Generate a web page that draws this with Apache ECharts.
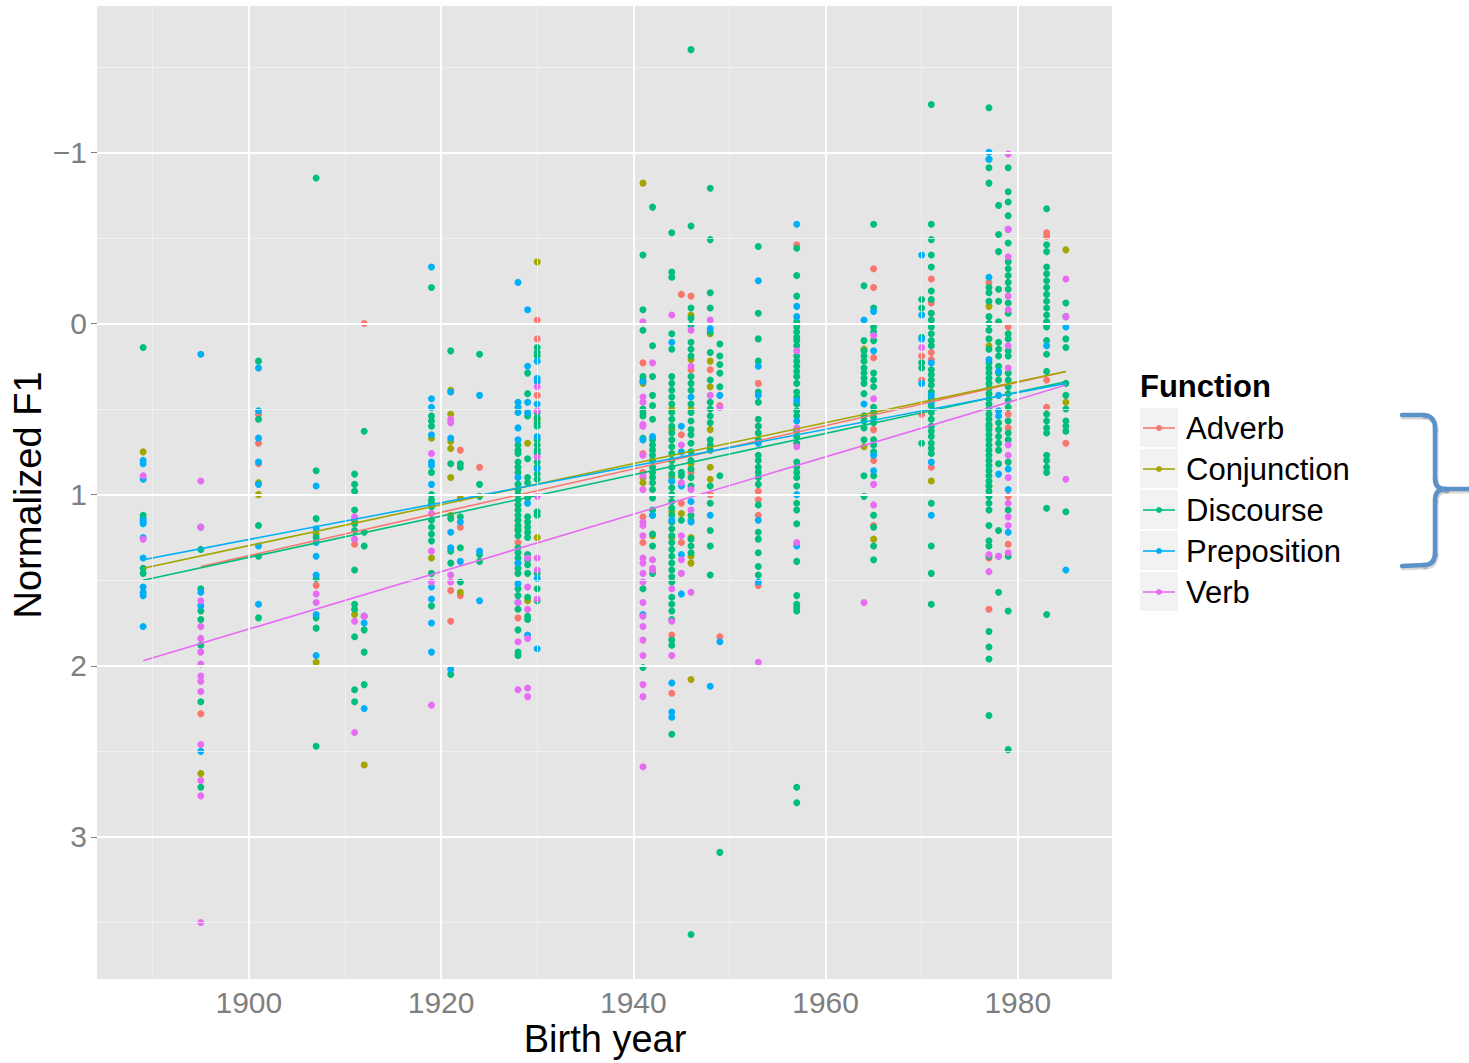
<!DOCTYPE html>
<html>
<head>
<meta charset="utf-8">
<script src="https://cdn.jsdelivr.net/npm/echarts@6/dist/echarts.min.js"></script>
<style>
html,body{margin:0;padding:0;background:#fff;}
#chart{width:1469px;height:1063px;}
</style>
</head>
<body>
<div id="chart"></div>
<script>
// ---- data: [birth year, [normalized F1 values]] ----
const adverb = [
 [1895,[2.28]],[1901,[0.53,0.70,0.82]],[1907,[1.53]],[1911,[1.29]],[1912,[0.00]],
 [1921,[1.56,1.74]],[1922,[0.74,1.19,1.59]],[1924,[0.84]],[1928,[1.28,1.72]],
 [1930,[-0.02,0.09,0.42]],[1941,[0.23,0.76,0.87,1.13,1.28]],[1944,[1.82,2.16]],
 [1945,[-0.17,0.65,1.05,1.28]],[1946,[-0.16,0.27,0.87]],[1948,[0.27,1.00]],[1949,[0.48,1.83]],
 [1953,[0.35,0.60,0.98,1.03,1.12,1.53]],[1957,[-0.46]],[1965,[-0.32,-0.21,0.20,0.62,0.80,1.18]],
 [1970,[0.19,0.33,0.53]],[1971,[-0.26,-0.12,-0.06,0.17,0.21,0.84]],[1977,[-0.24,1.37,1.67]],
 [1979,[0.02,0.53,0.61,1.01,1.29]],[1983,[-0.53,-0.51,0.01,0.33,0.49]],[1985,[0.70]]
];
const conjunction = [
 [1889,[0.75]],[1895,[2.63]],[1901,[0.93,1.00]],[1907,[1.23,1.98]],[1911,[1.15,1.70]],[1912,[2.58]],
 [1919,[0.67,1.37]],[1921,[0.39,0.53,0.69,0.73,0.90,1.12]],[1922,[1.02,1.57]],[1928,[1.20]],
 [1929,[0.70,1.62]],[1930,[-0.36,0.56,1.25]],[1941,[-0.82,0.35,0.90,0.93]],[1942,[1.24]],
 [1944,[0.50,0.62,0.80,0.90,1.10,1.25]],[1945,[1.11]],[1946,[-0.05,0.21,0.50,0.82,1.25,1.36,1.40,2.08]],
 [1948,[0.06,0.22,0.37,0.62,0.84,0.91]],[1964,[0.15,0.72]],[1965,[1.26]],[1971,[0.92]],
 [1977,[-0.10,0.13,0.60,0.95]],[1985,[-0.43,0.46]]
];
const discourse = [
 [1889,[0.14,1.12,1.14,1.43,1.46]],
 [1895,[1.19,1.32,1.55,1.68,1.73,1.88,2.21,2.71]],
 [1901,[0.22,0.56,1.18,1.36,1.72]],
 [1907,[-0.85,0.86,1.14,1.25,1.49,1.72,1.78,2.47]],
 [1911,[0.88,0.94,0.98,1.09,1.17,1.21,1.44,1.64,1.67,1.83,2.14,2.21]],
 [1912,[0.63,1.22,1.30,1.71,1.79,1.92,2.11]],
 [1919,[-0.21,0.54,0.57,0.60,0.87,1.00,1.03,1.05,1.07,1.15,1.19,1.23,1.27,1.46,1.65]],
 [1921,[0.16,0.82,1.14,1.33,1.40,2.05]],
 [1922,[0.82,0.84,1.13,1.31,1.51]],
 [1924,[0.18,0.94,1.01,1.35,1.39]],
 [1928,[0.71,0.74,0.76,0.81,0.84,0.87,0.94,0.97,1.00,1.03,1.06,1.09,1.12,1.15,1.18,1.21,1.24,1.31,1.34,1.37,1.40,1.43,1.46,1.55,1.59,1.67,1.79,1.92,1.94]],
 [1929,[0.29,0.41,0.54,0.79,0.90,0.93,1.02,1.13,1.16,1.19,1.22,1.25,1.35,1.38,1.41,1.46,1.60,1.71,1.73]],
 [1930,[0.14,0.17,0.19,0.52,0.55,0.58,0.60,0.68,0.71,0.74,0.76,0.81,0.84,0.88,0.91,1.10,1.12,1.46,1.55,1.62]],
 [1941,[-0.40,-0.08,0.04,0.31,0.33,0.50,0.52,0.54,0.67,1.55,2.01]],
 [1942,[-0.68,0.13,0.31,0.42,0.48,0.56,0.68,0.71,0.74,0.77,0.80,0.84,0.87,0.90,0.93,0.97,1.02,1.09,1.12,1.23,1.30,1.46]],
 [1944,[-0.53,-0.30,-0.27,0.06,0.15,0.31,0.35,0.39,0.43,0.47,0.52,0.56,0.60,0.64,0.68,0.72,0.76,0.80,0.84,0.88,0.92,0.96,1.00,1.04,1.08,1.12,1.16,1.20,1.24,1.28,1.32,1.36,1.40,1.44,1.48,1.51,1.60,1.64,1.68,1.73,1.85,1.88,2.40]],
 [1945,[0.87,0.89,1.15]],
 [1946,[-1.60,-0.57,-0.09,-0.03,0.01,0.11,0.15,0.19,0.31,0.35,0.39,0.47,0.52,0.57,0.62,0.65,0.70,0.75,0.80,0.85,0.90,0.95,1.12,1.15,1.26,1.30,1.34,3.57]],
 [1948,[-0.79,-0.49,-0.18,-0.09,0.05,0.17,0.33,0.46,0.50,0.54,0.58,0.68,0.71,0.74,0.95,1.05,1.21,1.30,1.47]],
 [1949,[0.12,0.19,0.24,0.29,0.37,0.89,3.09]],
 [1953,[-0.45,-0.06,0.09,0.22,0.40,0.46,0.56,0.60,0.64,0.68,0.77,0.80,0.84,0.87,0.90,0.94,1.06,1.22,1.26,1.34,1.42,1.47]],
 [1957,[-0.44,-0.28,-0.16,-0.01,0.02,0.05,0.08,0.10,0.13,0.19,0.22,0.25,0.28,0.31,0.35,0.40,0.43,0.47,0.51,0.54,0.63,0.66,0.70,0.81,0.84,0.87,0.90,0.95,1.05,1.09,1.17,1.39,1.59,1.64,1.66,1.68,2.71,2.80]],
 [1964,[-0.22,0.10,0.16,0.19,0.22,0.26,0.29,0.32,0.35,0.41,0.54,0.57,0.61,0.68,0.89,1.01]],
 [1965,[-0.58,-0.09,0.02,0.05,0.10,0.29,0.33,0.37,0.49,0.52,0.55,0.58,0.68,0.71,0.75,0.89,1.12,1.19,1.30,1.38]],
 [1970,[-0.14,-0.09,0.08,0.23,0.26,0.70]],
 [1971,[-1.28,-0.58,-0.49,-0.40,-0.33,-0.19,-0.14,-0.06,-0.02,0.02,0.06,0.10,0.13,0.27,0.30,0.33,0.36,0.40,0.44,0.48,0.52,0.56,0.60,0.63,0.66,0.70,0.73,0.76,1.05,1.30,1.46,1.64]],
 [1977,[-1.26,-0.96,-0.91,-0.82,-0.21,-0.18,-0.13,-0.04,0.00,0.04,0.09,0.15,0.23,0.26,0.29,0.32,0.35,0.38,0.41,0.44,0.47,0.50,0.53,0.56,0.59,0.62,0.65,0.68,0.71,0.74,0.77,0.80,0.83,0.86,0.89,0.92,0.95,0.98,1.01,1.05,1.09,1.18,1.27,1.30,1.36,1.80,1.89,1.96,2.29]],
 [1978,[-0.69,-0.52,-0.42,-0.20,-0.13,-0.01,0.11,0.15,0.19,0.25,0.29,0.33,0.58,0.62,0.66,0.70,0.74,0.82,1.21,1.57]],
 [1979,[-0.91,-0.77,-0.71,-0.63,-0.47,-0.36,-0.32,-0.28,-0.24,-0.20,-0.12,-0.06,0.06,0.09,0.16,0.19,0.29,0.33,0.37,0.41,0.45,0.49,0.57,0.64,0.68,0.81,1.09,1.36,1.68,2.49]],
 [1983,[-0.67,-0.46,-0.42,-0.33,-0.29,-0.25,-0.21,-0.17,-0.13,-0.09,-0.05,-0.01,0.02,0.10,0.18,0.28,0.53,0.57,0.61,0.64,0.77,0.80,0.84,0.87,1.08,1.70]],
 [1985,[-0.12,-0.04,0.09,0.14,0.35,0.42,0.50,0.57,0.60,0.63,1.10]]
];
const preposition = [
 [1889,[0.80,0.82,0.91,1.15,1.16,1.17,1.25,1.37,1.54,1.57,1.59,1.77]],
 [1895,[0.18,1.57,1.65,2.50]],[1901,[0.26,0.51,0.67,0.81,0.94,1.30,1.64]],
 [1907,[0.95,1.20,1.28,1.36,1.47,1.70,1.94]],[1912,[1.75,2.25]],
 [1919,[-0.33,0.44,0.49,0.65,0.81,0.83,0.94,1.54,1.61,1.75,1.92]],
 [1921,[0.40,0.67,1.22,1.31,2.02]],[1922,[1.16,1.39]],[1924,[0.42,1.33,1.62]],
 [1928,[-0.24,0.46,0.49,0.52,0.61,0.68,0.90,1.40,1.52,1.63]],
 [1929,[-0.08,0.25,0.46,0.52,1.05,1.82]],[1930,[0.22,0.32,0.34,0.47,0.66,0.85,1.49,1.90]],
 [1941,[0.34,0.68,1.70]],[1942,[0.66,1.12]],[1944,[0.11,0.92,1.15,2.10,2.27,2.30]],
 [1945,[0.60,0.75,0.95,1.35,1.58]],[1946,[0.43,1.04,1.16]],[1948,[0.03,1.12,2.12]],
 [1949,[0.42,1.86]],[1953,[-0.25,0.25,0.42,0.70,1.15,1.51]],
 [1957,[-0.58,-0.10,-0.04,0.45,0.57,1.00,1.30]],[1964,[-0.02,0.47]],
 [1965,[-0.07,0.16,0.77,0.86]],[1970,[-0.40,-0.05,0.09,0.35]],[1971,[0.23,0.42,0.46,0.81,1.12]],
 [1977,[-1.00,-0.96,-0.27,0.21]],[1978,[0.28,0.42,0.51,0.54,0.88,1.36]],
 [1979,[-0.55,0.85,0.97,1.22]],[1983,[0.13]],[1985,[0.02,1.44]]
];
const verb = [
 [1889,[0.89,1.26]],[1895,[0.92,1.19,1.62,1.77,1.84,1.92,1.99,2.06,2.09,2.15,2.46,2.67,2.76,3.50]],
 [1907,[1.58,1.63]],[1911,[1.13,1.26,1.74,2.39]],[1912,[1.71]],[1919,[0.76,1.11,1.33,1.51,2.23]],
 [1921,[0.56,0.58,1.47,1.51]],[1928,[1.63,1.86,2.14]],[1929,[1.37,1.54,1.67,1.84,2.13,2.18]],
 [1930,[0.37,0.51,0.78,1.01,1.37,1.44,1.61]],
 [1941,[-0.01,0.43,0.46,0.59,0.60,0.77,0.89,0.97,1.16,1.18,1.24,1.37,1.40,1.46,1.51,1.63,1.71,1.77,1.85,1.94,2.11,2.18,2.59]],
 [1942,[0.23,1.38,1.43,1.44]],[1944,[-0.05,1.55,1.74,1.94]],[1945,[0.71,0.93,1.24,1.38,1.46]],
 [1946,[0.04,0.25,0.97,1.09,1.57]],[1948,[-0.02,0.42]],[1949,[0.49]],[1953,[1.98]],
 [1957,[0.16,0.61,0.72,1.28]],[1964,[1.63]],[1965,[0.07,0.44,0.94,1.06]],[1970,[0.14]],
 [1977,[1.35,1.45]],[1978,[1.36]],
 [1979,[-0.99,-0.55,-0.39,-0.16,-0.08,0.13,0.26,0.71,0.77,0.90,1.05,1.13,1.18,1.34]],
 [1985,[-0.26,-0.04,0.91]]
];
// fitted regression lines (endpoints)
const adverbFit = [[1895,1.42],[1985,0.28]];
const conjunctionFit = [[1889,1.43],[1985,0.28]];
const discourseFit = [[1889,1.50],[1985,0.34]];
const prepositionFit = [[1889,1.38],[1985,0.35]];
const verbFit = [[1889,1.97],[1985,0.36]];

const seriesNames = ['Adverb','Conjunction','Discourse','Preposition','Verb'];
const seriesColors = ['#F8766D','#A3A500','#00BF7D','#00B0F6','#E76BF3'];
const xMajorTicks = [1900,1920,1940,1960,1980];
const xMinorTicks = [1890,1910,1930,1950,1970];
const yMajorTicks = [-1,0,1,2,3];
const yMinorTicks = [-1.5,-0.5,0.5,1.5,2.5,3.5];

const groups = [adverb, conjunction, discourse, preposition, verb];
const fits = [adverbFit, conjunctionFit, discourseFit, prepositionFit, verbFit];
const toPts = g => g.flatMap(([yr, vals]) => vals.map(v => [yr, v]));

const FONT = '"Liberation Sans", Arial, Helvetica, sans-serif';
const chart = echarts.init(document.getElementById('chart'), null, {renderer: 'svg'});

const series = [];
// grid lines
series.push({
  type: 'line', data: [], silent: true, z: 1,
  markLine: {
    silent: true, symbol: ['none','none'], label: {show: false}, animation: false,
    lineStyle: {color: '#F2F2F2', width: 0.8, type: 'solid'},
    emphasis: {disabled: true},
    data: xMinorTicks.map(v => ({xAxis: v})).concat(yMinorTicks.map(v => ({yAxis: v})))
  }
});
series.push({
  type: 'line', data: [], silent: true, z: 1,
  markLine: {
    silent: true, symbol: ['none','none'], label: {show: false}, animation: false,
    lineStyle: {color: '#FFFFFF', width: 1.8, type: 'solid'},
    emphasis: {disabled: true},
    data: xMajorTicks.map(v => ({xAxis: v})).concat(yMajorTicks.map(v => ({yAxis: v})))
  }
});
groups.forEach((g, i) => {
  series.push({
    name: seriesNames[i], type: 'scatter', data: toPts(g), z: 3,
    symbolSize: 7, itemStyle: {color: seriesColors[i], opacity: 1}
  });
});
fits.forEach((f, i) => {
  series.push({
    name: seriesNames[i] + ' fit', type: 'line', data: f, z: 4,
    showSymbol: false, symbol: 'none',
    lineStyle: {color: seriesColors[i], width: 1.6}
  });
});

// legend drawn as graphic elements
const legendEls = [{
  type: 'text', x: 1140, y: 386,
  style: {text: 'Function', font: 'bold 31px ' + FONT, fill: '#000', verticalAlign: 'middle', textVerticalAlign: 'middle'}
}];
seriesNames.forEach((n, i) => {
  const top = 408 + i * 41;
  const cy = top + 20;
  legendEls.push({type: 'rect', shape: {x: 1140, y: top, width: 38, height: 39}, style: {fill: '#F2F2F2'}});
  legendEls.push({type: 'line', shape: {x1: 1143, y1: cy, x2: 1175, y2: cy}, style: {stroke: seriesColors[i], lineWidth: 1.6}});
  legendEls.push({type: 'circle', shape: {cx: 1159, cy: cy, r: 3}, style: {fill: seriesColors[i]}});
  legendEls.push({type: 'text', x: 1186, y: cy, style: {text: n, font: '31px ' + FONT, fill: '#000', textVerticalAlign: 'middle', verticalAlign: 'middle'}});
});

// curly brace beside the legend (with a soft offset shadow copy)
const braceParts = (dx, dy) => [
  {type: 'line', shape: {x1: 1402 + dx, y1: 415 + dy, x2: 1424 + dx, y2: 415 + dy}},
  {type: 'bezierCurve', shape: {x1: 1424 + dx, y1: 415 + dy, cpx1: 1435 + dx, cpy1: 416 + dy, x2: 1435 + dx, y2: 428 + dy}},
  {type: 'line', shape: {x1: 1435 + dx, y1: 428 + dy, x2: 1435 + dx, y2: 479 + dy}},
  {type: 'bezierCurve', shape: {x1: 1435 + dx, y1: 479 + dy, cpx1: 1435 + dx, cpy1: 489 + dy, x2: 1446 + dx, y2: 489 + dy}},
  {type: 'line', shape: {x1: 1446 + dx, y1: 489 + dy, x2: 1469 + dx, y2: 489 + dy}},
  {type: 'bezierCurve', shape: {x1: 1446 + dx, y1: 489 + dy, cpx1: 1435 + dx, cpy1: 489 + dy, x2: 1435 + dx, y2: 500 + dy}},
  {type: 'line', shape: {x1: 1435 + dx, y1: 500 + dy, x2: 1435 + dx, y2: 553 + dy}},
  {type: 'bezierCurve', shape: {x1: 1435 + dx, y1: 553 + dy, cpx1: 1435 + dx, cpy1: 565 + dy, x2: 1424 + dx, y2: 565 + dy}},
  {type: 'line', shape: {x1: 1424 + dx, y1: 565 + dy, x2: 1402 + dx, y2: 566 + dy}}
];
const braceEls = []
  .concat(braceParts(1, 2).map(e => Object.assign(e, {style: {stroke: 'rgba(0,0,0,0.15)', lineWidth: 5, lineCap: 'round', fill: null}})))
  .concat(braceParts(0, 0).map(e => Object.assign(e, {style: {stroke: '#5B93C9', lineWidth: 4.5, lineCap: 'round', fill: null}})));

const option = {
  animation: false,
  backgroundColor: '#FFFFFF',
  textStyle: {fontFamily: FONT},
  grid: {left: 97, top: 6, width: 1015, height: 973, show: true, backgroundColor: '#E5E5E5', borderWidth: 0, containLabel: false},
  xAxis: {
    type: 'value', min: 1884.2, max: 1989.8,
    axisLine: {show: false},
    splitLine: {show: false},
    axisTick: {show: true, customValues: xMajorTicks, length: 6, lineStyle: {color: '#7F7F7F', width: 1}},
    axisLabel: {customValues: xMajorTicks, fontSize: 30, color: '#7F7F7F', margin: 8, fontFamily: FONT,
      formatter: v => String(v)}
  },
  yAxis: {
    type: 'value', min: -1.855, max: 3.83, inverse: true,
    axisLine: {show: false},
    splitLine: {show: false},
    axisTick: {show: true, customValues: yMajorTicks, length: 6, lineStyle: {color: '#7F7F7F', width: 1}},
    axisLabel: {customValues: yMajorTicks, fontSize: 30, color: '#7F7F7F', margin: 10, fontFamily: FONT,
      formatter: v => (v < 0 ? '\u2212' + Math.abs(v) : String(v))}
  },
  series: series,
  graphic: [
    {type: 'text', x: 605, y: 1039, style: {text: 'Birth year', font: '38px ' + FONT, fill: '#000', align: 'center', verticalAlign: 'middle', textAlign: 'center', textVerticalAlign: 'middle'}},
    {type: 'text', x: 28, y: 495, rotation: Math.PI / 2, style: {text: 'Normalized F1', font: '38px ' + FONT, fill: '#000', align: 'center', verticalAlign: 'middle', textAlign: 'center', textVerticalAlign: 'middle'}}
  ].concat(braceEls, legendEls)
};
chart.setOption(option);
</script>
</body>
</html>
